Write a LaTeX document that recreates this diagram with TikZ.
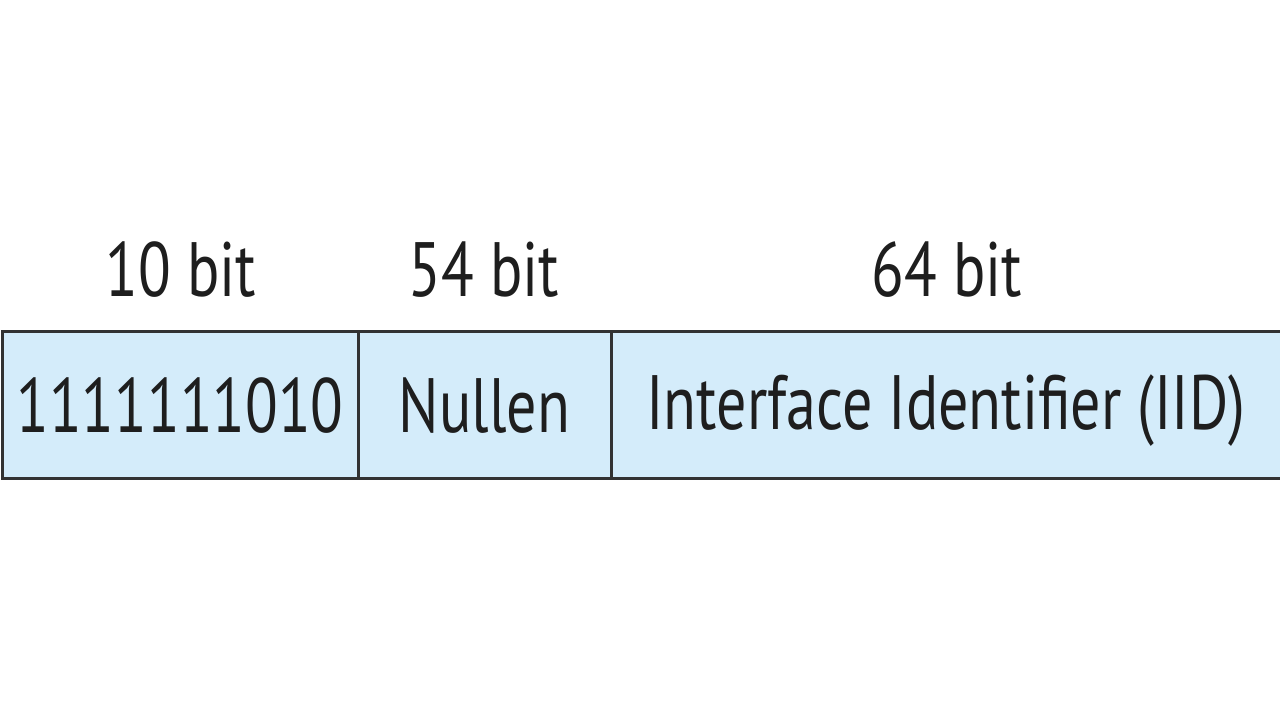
\documentclass[tikz,border=0pt]{standalone}
\usepackage{fontspec}
\setmainfont{PT Sans}[FakeStretch=0.78]
\definecolor{cellfill}{RGB}{212,236,250}
\definecolor{cellline}{RGB}{50,50,50}
\definecolor{txtcol}{RGB}{30,30,30}
\begin{document}
\begin{tikzpicture}[x=0.5pt,y=-0.5pt,
  cell/.style={draw=cellline, line width=1.5pt, fill=cellfill, minimum height=73.5pt,
    inner sep=0pt, text=txtcol, font=\fontsize{38.5}{40}\selectfont, text height=27pt, text depth=0pt},
  lbl/.style={inner sep=0pt, anchor=base, text=txtcol, font=\fontsize{38.5}{40}\selectfont}]
\useasboundingbox (0,0) rectangle (1280,721);
\fill[white] (0,0) rectangle (1280,721);
\begin{scope}
\clip (0,0) rectangle (1280,721);
\node[cell, minimum width=178pt] (c1) at (180,405.5) {1111111010};
\node[cell, minimum width=126.5pt] (c2) at (484.5,405.5) {Nullen};
\node[cell, minimum width=340pt] (c3) at (951,405.5) {};
\node[inner sep=0pt, anchor=base, text=txtcol, font=\fontsize{38.5}{40}\selectfont] (t3) at (946,430) {Interface Identifier (IID)};
\end{scope}
\node[lbl] (l1) at (181,297) {10 bit};
\node[lbl] (l2) at (484,297) {54 bit};
\node[lbl] (l3) at (947,297) {64 bit};
\end{tikzpicture}
\end{document}
